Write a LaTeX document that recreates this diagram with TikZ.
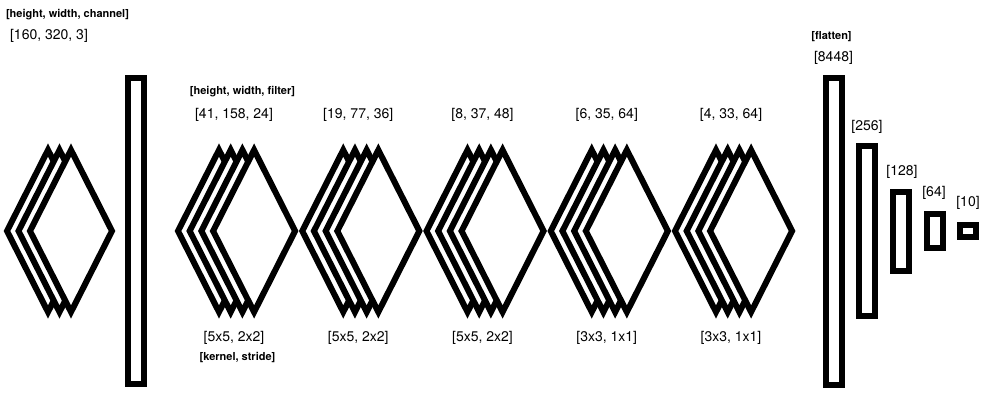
\documentclass[tikz,border=0pt]{standalone}
\usepackage{fontspec}
\setmainfont{TeX Gyre Heros}
\usetikzlibrary{positioning}
\tikzset{
  sheet/.style ={draw=black,fill=white,line width=6pt,line join=miter},
  fcbox/.style ={draw=black,fill=white,line width=6pt,inner sep=0pt,
                 minimum width=16pt},
  dims/.style  ={font=\fontsize{14}{16}\selectfont,inner sep=0pt},
  tag/.style   ={font=\fontsize{11}{13}\selectfont\bfseries,inner sep=0pt},
}

\begin{document}
\begin{tikzpicture}[x=1pt,y=-1pt]
\useasboundingbox (0,0) rectangle (988,402);
% input image (3 channels)
\foreach \cx in {48,59.5,71}
  \draw[sheet] (\cx-41,231) -- (\cx,150) -- (\cx+41,231) -- (\cx,312) -- cycle;
\node[tag]  (in-tag) at (67.5,14.5) {[height, width, channel]};
\node[dims] (in-dim) at (49,36) {[160, 320, 3]};
% normalisation layer
\node[fcbox,minimum height=306pt] (norm) at (135.5,231) {};
% convolution stacks
\foreach \sx/\dim/\ker [count=\i] in {219/{[41, 158, 24]}/{[5x5, 2x2]},
    343.25/{[19, 77, 36]}/{[5x5, 2x2]},467.5/{[8, 37, 48]}/{[5x5, 2x2]},
    591.75/{[6, 35, 64]}/{[3x3, 1x1]},716/{[4, 33, 64]}/{[3x3, 1x1]}}
{
  \foreach \k in {0,1,2,3}
    \draw[sheet] (\sx+11.7*\k-41,231) -- (\sx+11.7*\k,150)
      -- (\sx+11.7*\k+41,231) -- (\sx+11.7*\k,312) -- cycle;
  \node[dims] (conv\i-dim) at (\sx+15,115) {\dim};
  \node[dims] (conv\i-ker) at (\sx+15,338) {\ker};
}
\node[tag] (conv-tag) at (242.5,92) {[height, width, filter]};
\node[tag] (ker-tag)  at (237.5,357) {[kernel, stride]};
% fully connected layers
\node[fcbox,minimum height=307pt] (flat) at (833.5,231.5) {};
\node[fcbox,minimum height=170pt] (fc1)  at (867.2,231) {};
\node[fcbox,minimum height=79pt]  (fc2)  at (901.2,231.5) {};
\node[fcbox,minimum height=34pt]  (fc3)  at (934.7,231) {};
\node[fcbox,minimum height=12.3pt](fc4)  at (967.8,231) {};
\node[tag]  (flat-tag) at (831.5,37) {[flatten]};
\node[dims] (flat-dim) at (833.5,58) {[8448]};
\node[dims] (fc1-dim)  at (867,127) {[256]};
\node[dims] (fc2-dim)  at (902,172) {[128]};
\node[dims] (fc3-dim)  at (934,193) {[64]};
\node[dims] (fc4-dim)  at (968,203) {[10]};
\end{tikzpicture}
\end{document}
